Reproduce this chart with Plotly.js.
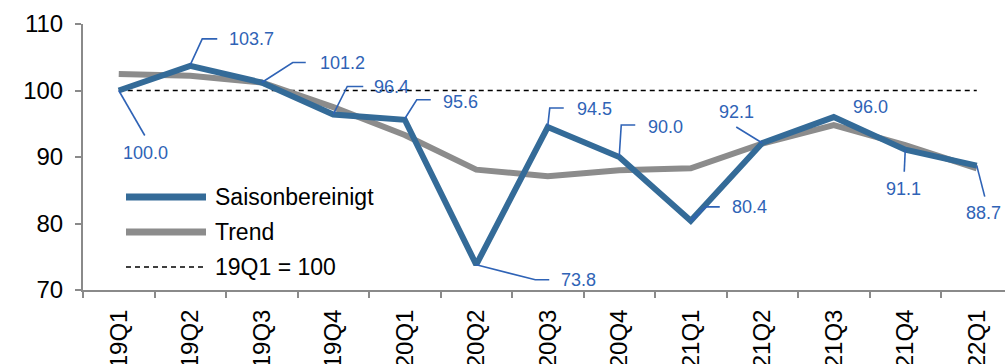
<!DOCTYPE html>
<html>
<head>
<meta charset="utf-8">
<script src="https://cdn.plot.ly/plotly-3.0.1.min.js"></script>
<style>
  html, body { margin: 0; padding: 0; background: #fff; }
  #chart { width: 1005px; height: 364px; }
</style>
</head>
<body>
<div id="chart"></div>
<script>
// Quarterly index, 19Q1 = 100
const quarters = ['19Q1','19Q2','19Q3','19Q4','20Q1','20Q2','20Q3','20Q4','21Q1','21Q2','21Q3','21Q4','22Q1'];
const seasonallyAdjusted = [100.0, 103.7, 101.2, 96.4, 95.6, 73.8, 94.5, 90.0, 80.4, 92.1, 96.0, 91.1, 88.7];
const trend = [102.5, 102.2, 101.2, 97.5, 93.3, 88.1, 87.1, 88.0, 88.3, 92.0, 94.8, 91.8, 88.3];
const baseValue = 100;
const yTicks = [70, 80, 90, 100, 110];
const seriesNames = ['Saisonbereinigt', 'Trend', '19Q1 = 100'];

const BLUE = '#346B98';
const GREY = '#8C8C8C';
const LABEL_BLUE = '#2F63B6';
const FONT = '"Liberation Sans", Arial, sans-serif';

// Plot area in pixels
const M = { l: 83, r: 0, t: 24, b: 74 };
const W = 1005, H = 364;
const PW = W - M.l - M.r, PH = H - M.t - M.b;

// Value label placement: text shift (screen px, y down) and leader polyline
const labelStyle = [
  { dx: 27,  dy: 62,  anchor: 'center', leader: [[0,0],[26,45]] },
  { dx: 37,  dy: -27, anchor: 'left',   leader: [[0,-1],[12,-27],[27,-27]] },
  { dx: 56,  dy: -20, anchor: 'left',   leader: [[0,0],[31,-20],[44,-20]] },
  { dx: 39,  dy: -27, anchor: 'left',   leader: [[0,0],[14,-28],[30,-28]] },
  { dx: 36,  dy: -18, anchor: 'left',   leader: [[0,-1],[12,-20],[26,-20]] },
  { dx: 83,  dy: 15,  anchor: 'left',   leader: [[0,0],[59,15],[73,15]] },
  { dx: 27,  dy: -18, anchor: 'left',   leader: [[0,-1],[2,-19],[16,-19]] },
  { dx: 27,  dy: -30, anchor: 'left',   leader: [[0,-1],[2,-32],[16,-32]] },
  { dx: 39,  dy: -14, anchor: 'left',   leader: [[0,0],[15,-14],[29,-14]] },
  { dx: -26, dy: -31, anchor: 'center', leader: [[0,0],[-26,-16]] },
  { dx: 17,  dy: -10, anchor: 'left',   leader: null },
  { dx: -2,  dy: 39,  anchor: 'center', leader: [[0,0],[-1,22]] },
  { dx: 7,   dy: 47,  anchor: 'center', leader: [[0,0],[8,31]] }
];

const traces = [
  {
    x: quarters, y: quarters.map(() => baseValue), name: seriesNames[2],
    type: 'scatter', mode: 'lines',
    line: { color: '#000', width: 1.3, dash: '5px,4px' },
    hoverinfo: 'skip'
  },
  {
    x: quarters, y: trend, name: seriesNames[1],
    type: 'scatter', mode: 'lines',
    line: { color: GREY, width: 6 }
  },
  {
    x: quarters, y: seasonallyAdjusted, name: seriesNames[0],
    type: 'scatter', mode: 'lines',
    line: { color: BLUE, width: 6 }
  }
];

const annotations = [];
const shapes = [];

seasonallyAdjusted.forEach((v, i) => {
  const s = labelStyle[i];
  annotations.push({
    x: i, y: v, xref: 'x', yref: 'y',
    text: v.toFixed(1), showarrow: false,
    xanchor: s.anchor, yanchor: 'middle',
    xshift: s.dx, yshift: -s.dy,
    font: { family: FONT, size: 18, color: LABEL_BLUE }
  });
  if (s.leader) {
    const path = s.leader.map((p, k) => (k ? 'L' : 'M') + p[0] + ',' + (-p[1])).join(' ');
    shapes.push({
      type: 'path', xref: 'x', yref: 'y',
      xsizemode: 'pixel', ysizemode: 'pixel',
      xanchor: i, yanchor: v, path: path,
      line: { color: LABEL_BLUE, width: 1.6 }
    });
  }
});

// Legend drawn inside the plot area, lower left
const px = x => x / PW;
const py = y => 1 - y / PH;
const legendRows = [
  { name: seriesNames[0], color: BLUE, width: 7, dash: 'solid', y: 173 },
  { name: seriesNames[1], color: GREY, width: 7, dash: 'solid', y: 208 },
  { name: seriesNames[2], color: '#000', width: 1.3, dash: '5px,4px', y: 243 }
];
legendRows.forEach(r => {
  shapes.push({
    type: 'line', xref: 'paper', yref: 'paper',
    x0: px(43), x1: px(123), y0: py(r.y), y1: py(r.y),
    line: { color: r.color, width: r.width, dash: r.dash }
  });
  annotations.push({
    xref: 'paper', yref: 'paper', x: px(130), y: py(r.y),
    xanchor: 'left', yanchor: 'middle', showarrow: false,
    text: r.name, font: { family: FONT, size: 23, color: '#000' }
  });
});

const layout = {
  width: W, height: H,
  margin: M,
  paper_bgcolor: '#fff', plot_bgcolor: '#fff',
  showlegend: false,
  font: { family: FONT, color: '#000' },
  xaxis: {
    type: 'category',
    range: [-0.5, -0.5 + PW / 71.5],
    showgrid: false, zeroline: false,
    showline: true, linecolor: '#8A8A8A', linewidth: 2,
    ticks: 'outside', tickson: 'boundaries', ticklen: 6, tickwidth: 2, tickcolor: '#8A8A8A',
    tickangle: -90,
    tickfont: { family: FONT, size: 24, color: '#000' },
    ticklabelstandoff: 8,
    automargin: false, fixedrange: true
  },
  yaxis: {
    range: [70, 110],
    tickvals: yTicks,
    showgrid: false, zeroline: false,
    showline: true, linecolor: '#8A8A8A', linewidth: 2,
    ticks: 'outside', ticklen: 6, tickwidth: 2, tickcolor: '#8A8A8A',
    tickfont: { family: FONT, size: 24, color: '#000' },
    ticklabelstandoff: 7,
    automargin: false, fixedrange: true
  },
  annotations: annotations,
  shapes: shapes
};

Plotly.newPlot('chart', traces, layout, { staticPlot: true, displayModeBar: false });
</script>
</body>
</html>
